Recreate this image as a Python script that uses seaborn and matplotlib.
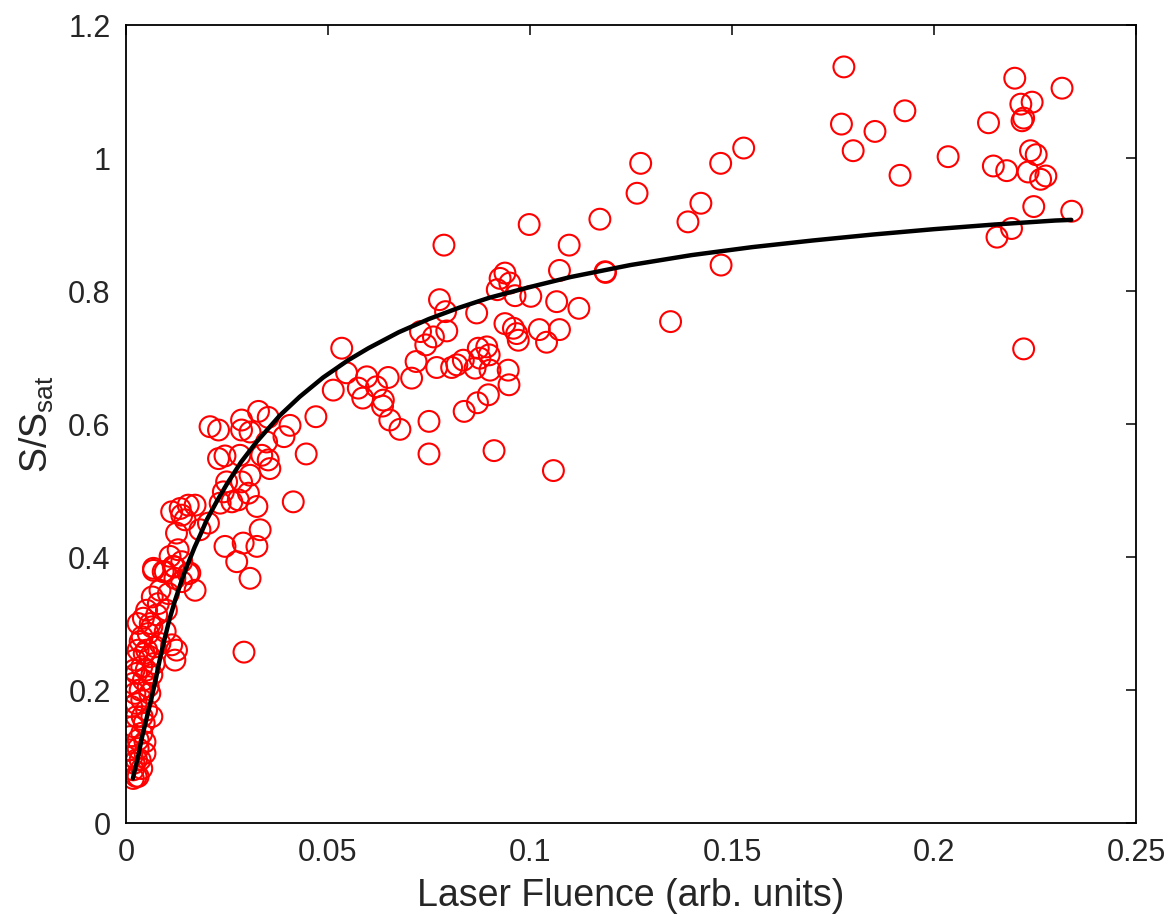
import matplotlib
matplotlib.use("Agg")
import matplotlib.pyplot as plt
import seaborn as sns
import pandas as pd

# ---------------- data ----------------
fluence_low = [0.0068, 0.0092, 0.0121, 0.0138, 0.0154, 0.0171, 0.0121, 0.0084, 0.0105, 0.0051,
               0.0076, 0.0043, 0.0064, 0.0097, 0.0113, 0.0121, 0.0035, 0.0051, 0.0022, 0.0039,
               0.0059, 0.0072, 0.0084, 0.0026, 0.0018, 0.0043, 0.0064, 0.0022, 0.0039, 0.0059,
               0.0051, 0.0064, 0.0014, 0.0026, 0.0018, 0.0039, 0.0010, 0.0047, 0.0010, 0.0030,
               0.0047, 0.0026, 0.0039, 0.0018, 0.0030, 0.0018, 0.0125, 0.0138,
               0.0030, 0.0055, 0.0045, 0.0030, 0.0070, 0.0035, 0.0050, 0.0025, 0.0045, 0.0015,
               0.0035, 0.0060, 0.0080, 0.0065, 0.0100, 0.0040, 0.0020, 0.0055, 0.0030, 0.0020,
               0.0040, 0.0025]
signal_low = [0.380, 0.378, 0.385, 0.393, 0.375, 0.350, 0.368, 0.350, 0.345, 0.320,
              0.313, 0.308, 0.295, 0.288, 0.268, 0.245, 0.273, 0.260, 0.245, 0.235,
              0.250, 0.265, 0.270, 0.225, 0.210, 0.215, 0.223, 0.195, 0.185, 0.195,
              0.170, 0.160, 0.175, 0.160, 0.145, 0.135, 0.130, 0.122, 0.110, 0.112,
              0.105, 0.095, 0.082, 0.080, 0.070, 0.067, 0.260, 0.363,
              0.300, 0.285, 0.255, 0.260, 0.240, 0.200, 0.230, 0.180, 0.150, 0.100,
              0.095, 0.300, 0.330, 0.340, 0.320, 0.280, 0.230, 0.205, 0.125, 0.090,
              0.160, 0.070]

fluence_mid = [0.0208, 0.0229, 0.0286, 0.0328, 0.0352, 0.0286, 0.0307, 0.0348, 0.0229, 0.0245,
               0.0282, 0.0336, 0.0352, 0.0356, 0.0307, 0.0286, 0.0249, 0.0241, 0.0303, 0.0278,
               0.0324, 0.0262, 0.0233, 0.0414, 0.0113, 0.0134, 0.0154, 0.0171, 0.0138, 0.0146,
               0.0204, 0.0183, 0.0125, 0.0332, 0.0245, 0.0290, 0.0324, 0.0274, 0.0068, 0.0109,
               0.0117, 0.0129, 0.0158, 0.0097, 0.0307, 0.0292]
signal_mid = [0.596, 0.591, 0.606, 0.619, 0.610, 0.591, 0.588, 0.573, 0.548, 0.552,
              0.553, 0.553, 0.546, 0.533, 0.523, 0.513, 0.513, 0.498, 0.496, 0.486,
              0.476, 0.483, 0.481, 0.483, 0.468, 0.473, 0.478, 0.478, 0.463, 0.456,
              0.451, 0.441, 0.436, 0.441, 0.416, 0.421, 0.416, 0.393, 0.383, 0.401,
              0.386, 0.411, 0.376, 0.378, 0.368, 0.257]

fluence_high = [0.0787, 0.1097, 0.0998, 0.1073, 0.1186, 0.0938, 0.0926, 0.0950, 0.0919, 0.0963,
                0.1002, 0.1066, 0.1121, 0.0776, 0.0791, 0.0868, 0.0794, 0.0729, 0.0761, 0.0742,
                0.0718, 0.0707, 0.0938, 0.0959, 0.0971, 0.0967, 0.1023, 0.1073, 0.1041, 0.0872,
                0.0893, 0.0899, 0.0876, 0.0835, 0.0819, 0.0806, 0.0769, 0.0864, 0.0901, 0.0946,
                0.0948, 0.0897, 0.0870, 0.0837, 0.0750, 0.0750, 0.0911, 0.1058, 0.0534, 0.0546,
                0.0513, 0.0575, 0.0596, 0.0586, 0.0620, 0.0649, 0.0637, 0.0635, 0.0653, 0.0678,
                0.0470, 0.0406, 0.0391, 0.0446]
signal_high = [0.869, 0.869, 0.900, 0.831, 0.829, 0.827, 0.819, 0.812, 0.802, 0.793,
               0.792, 0.784, 0.774, 0.787, 0.769, 0.767, 0.740, 0.739, 0.731, 0.719,
               0.694, 0.669, 0.751, 0.744, 0.726, 0.736, 0.742, 0.742, 0.723, 0.714,
               0.716, 0.704, 0.699, 0.696, 0.689, 0.685, 0.685, 0.684, 0.681, 0.681,
               0.659, 0.644, 0.632, 0.619, 0.604, 0.555, 0.560, 0.530, 0.714, 0.677,
               0.651, 0.654, 0.671, 0.639, 0.656, 0.670, 0.636, 0.627, 0.606, 0.592,
               0.611, 0.598, 0.581, 0.555]

fluence_sat = [0.1771, 0.1854, 0.2135, 0.2222, 0.1274, 0.1472, 0.1529, 0.1800, 0.1916, 0.2035,
               0.2147, 0.2180, 0.2233, 0.2239, 0.2253, 0.2264, 0.2277, 0.2247, 0.2341, 0.2192,
               0.2156, 0.2222, 0.1173, 0.1265, 0.1423, 0.1391, 0.1187, 0.1473, 0.1348, 0.1777,
               0.2200, 0.2215, 0.2243, 0.2218, 0.2317, 0.1928]
signal_sat = [1.051, 1.040, 1.053, 1.060, 0.992, 0.992, 1.015, 1.011, 0.974, 1.002,
              0.988, 0.981, 0.979, 1.011, 1.005, 0.968, 0.973, 0.927, 0.920, 0.894,
              0.881, 0.713, 0.908, 0.947, 0.932, 0.904, 0.828, 0.839, 0.754, 1.137,
              1.120, 1.081, 1.084, 1.056, 1.105, 1.071]

# fitted saturation curve
fit_fluence = [0.0017, 0.0030, 0.0040, 0.0052, 0.0064, 0.0075, 0.0085, 0.0096, 0.0107, 0.0122,
               0.0138, 0.0154, 0.0170, 0.0185, 0.0200, 0.0225, 0.0250, 0.0285, 0.0323, 0.0381,
               0.0430, 0.0488, 0.0550, 0.0600, 0.0675, 0.0750, 0.0825, 0.0900, 0.1000, 0.1100,
               0.1248, 0.1400, 0.1550, 0.1700, 0.1850, 0.2000, 0.2150, 0.2300, 0.2340]
fit_signal = [0.067, 0.100, 0.130, 0.160, 0.190, 0.220, 0.250, 0.278, 0.305, 0.336,
              0.365, 0.391, 0.415, 0.435, 0.456, 0.484, 0.510, 0.543, 0.573, 0.613,
              0.641, 0.670, 0.696, 0.714, 0.738, 0.758, 0.775, 0.790, 0.806, 0.821,
              0.839, 0.854, 0.866, 0.876, 0.885, 0.893, 0.900, 0.906, 0.907]

x_ticks = [0, 0.05, 0.10, 0.15, 0.20, 0.25]
x_tick_labels = ["0", "0.05", "0.1", "0.15", "0.2", "0.25"]
y_ticks = [0, 0.2, 0.4, 0.6, 0.8, 1.0, 1.2]
y_tick_labels = ["0", "0.2", "0.4", "0.6", "0.8", "1", "1.2"]

# ---------------- plotting ----------------
sns.set_theme(style="white")
plt.rcParams["font.family"] = ["Liberation Sans", "DejaVu Sans"]
plt.rcParams["mathtext.default"] = "regular"

points = pd.DataFrame({
    "fluence": fluence_low + fluence_mid + fluence_high + fluence_sat,
    "signal": signal_low + signal_mid + signal_high + signal_sat,
})
fit = pd.DataFrame({"fluence": fit_fluence, "signal": fit_signal})

fig = plt.figure(figsize=(11.7, 9.23), dpi=100)
ax = fig.add_axes([0.1077, 0.1083, 0.8632, 0.8646])

sns.scatterplot(data=points, x="fluence", y="signal", ax=ax, marker="o", s=225,
                facecolors="none", edgecolor="#ff0000", linewidth=1.5, zorder=2)
sns.lineplot(data=fit, x="fluence", y="signal", ax=ax, color="black", linewidth=3.2,
             sort=False, estimator=None, zorder=3)

ax.set_xlim(0, 0.25)
ax.set_ylim(0, 1.2)
ax.set_xticks(x_ticks)
ax.set_xticklabels(x_tick_labels)
ax.set_yticks(y_ticks)
ax.set_yticklabels(y_tick_labels)
ax.tick_params(axis="both", direction="in", length=7.5, width=1.1, top=True, right=True,
               labelsize=22, labelcolor="#262626", color="black")
ax.tick_params(axis="x", pad=11)
ax.tick_params(axis="y", pad=11)
for sp in ax.spines.values():
    sp.set_visible(True)
    sp.set_color("black")
    sp.set_linewidth(1.3)

ax.set_xlabel("Laser Fluence (arb. units)", fontsize=27, color="#262626", labelpad=7)
ax.set_ylabel("S/S$_{sat}$", fontsize=27, color="#262626", labelpad=9)

fig.savefig("out.png", dpi=100)
